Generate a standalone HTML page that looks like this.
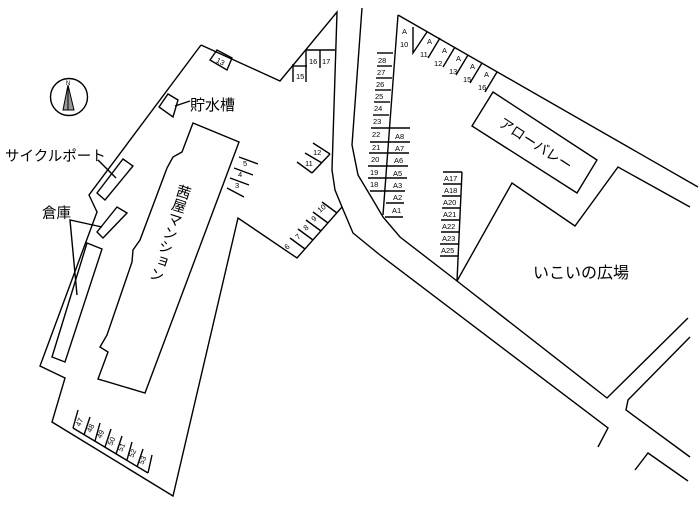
<!DOCTYPE html>
<html><head><meta charset="utf-8"><style>
html,body{margin:0;padding:0;background:#fff;}
svg{display:block;}
text{font-family:"Liberation Sans","Noto Sans CJK JP",sans-serif;fill:#000;}
.j{font-family:"Noto Sans CJK JP","Liberation Sans",sans-serif;}
</style></head><body>
<svg width="700" height="506" viewBox="0 0 700 506" xmlns="http://www.w3.org/2000/svg">
<g fill="none" stroke="#000" stroke-width="1.4" stroke-linejoin="miter">
<!-- left lot outline -->
<polyline points="201,45 280,81 337,12 332,170 335,190 342,207 297,258 238,218 173,496 52,422 65,378 40,366 97,212 89,195 201,45"/>
<!-- building -->
<polygon points="193,123 239,142 145,393 98,379 108,352 100,347 107,335 132,262 133,250 140,240 167,168 173,157 182,152"/>
<!-- cycle port -->
<polygon points="97,193 123,159 133,166 105,200"/>
<!-- warehouses -->
<polygon points="97,232 117,207 127,213 103,238"/>
<polygon points="87,243 102,249 65,362 52,357"/>
<!-- water tank -->
<polygon points="159,107 168,94 178,100 173,117"/>
<polyline points="175,106 190,101"/>
<!-- box 13 -->
<polygon points="210,60 217,50 232,58 227,70"/>
<!-- leaders -->
<polyline points="98,160 116,178"/>
<polyline points="102,227 70,220 77,295"/>
<!-- 15 16 17 -->
<polyline points="306,50 335,50"/>
<polyline points="293,66 307,66"/>
<polyline points="293,64 293,82"/>
<polyline points="306,50 306,82"/>
<polyline points="320,50 320,68"/>
<!-- 3 4 5 -->
<polyline points="239,157 258,164"/>
<polyline points="234,168 253,175"/>
<polyline points="230,178 249,185"/>
<polyline points="227,188 244,197"/>
<!-- 11 12 -->
<polyline points="330,154 312,173"/>
<polyline points="330,154 313,143"/>
<polyline points="322,163 305,153"/>
<polyline points="312,173 297,162"/>
<!-- 6-10 dividers -->
<polyline points="337,213 322,202"/>
<polyline points="328,223 313,212"/>
<polyline points="321,231 306,220"/>
<polyline points="313,240 298,229"/>
<polyline points="305,249 290,238"/>
<!-- 47-53 -->
<polyline points="73,428 148,473"/>
<polyline points="78,410 73,428"/>
<polyline points="90,417 84,435"/>
<polyline points="100,423 95,441"/>
<polyline points="111,429 105,447"/>
<polyline points="122,436 116,454"/>
<polyline points="132,442 127,460"/>
<polyline points="143,449 137,467"/>
<polyline points="152,455 148,473"/>
<!-- road -->
<polyline points="362,8 352,145 358,175 370,195 383,217 400,237 457,281 607,398 688,318"/>
<polyline points="342,207 353,233 380,255 608,428 598,447"/>
<polyline points="690,337 628,400 626,410 690,457"/>
<polyline points="635,470 648,453 688,481"/>
<!-- right lot -->
<polyline points="398,15 698,187"/>
<polyline points="398,15 383,215"/>
<polyline points="690,207 618,167 575,226 512,183 457,281"/>
<polygon points="472,126 493,92 597,160 577,193"/>
<!-- A10-A16 dividers -->
<polyline points="413,27 413,53 427,32"/>
<polyline points="440,38 428,58"/>
<polyline points="455,47 443,67"/>
<polyline points="468,55 456,75"/>
<polyline points="482,63 470,83"/>
<polyline points="497,72 485,92"/>
<!-- 28-23 stall lines -->
<polyline points="377,53 393,53"/>
<polyline points="377,66 392,66"/>
<polyline points="376,78 392,78"/>
<polyline points="375,90 391,90"/>
<polyline points="374,102 390,102"/>
<polyline points="373,115 389,115"/>
<polyline points="371,128 410,128"/>
<polyline points="370,142 410,142"/>
<polyline points="369,153 409,153"/>
<polyline points="368,166 408,166"/>
<polyline points="368,178 407,178"/>
<polyline points="370,191 405,191"/>
<polyline points="386,203 404,203"/>
<polyline points="385,217 403,217"/>
<!-- A17-A25 -->
<polyline points="462,172 457,281"/>
<polyline points="443,172 462,172"/>
<polyline points="443,184 461,184"/>
<polyline points="442,196 461,196"/>
<polyline points="442,208 460,208"/>
<polyline points="441,220 460,220"/>
<polyline points="441,232 459,232"/>
<polyline points="440,244 459,244"/>
<polyline points="440,256 458,256"/>
<!-- compass -->
<circle cx="69" cy="97" r="18.5"/>
</g>
<polygon points="68,85 63,110 74,110" fill="#999" stroke="#000" stroke-width="1"/>
<line x1="68" y1="85" x2="68" y2="110" stroke="#000" stroke-width="1"/>
<text x="68" y="85" font-size="6" text-anchor="middle">N</text>

<!-- labels -->
<text class="j" x="5" y="161" font-size="14.5">サイクルポート</text>
<text class="j" x="42" y="218" font-size="14.5">倉庫</text>
<text class="j" x="190" y="110" font-size="15">貯水槽</text>
<text class="j" x="533" y="278" font-size="16">いこいの広場</text>
<text class="j" font-size="14" transform="translate(535,145) rotate(33)" text-anchor="middle" dominant-baseline="middle">アローバレー</text>
<text class="j" font-size="14.5" transform="translate(186,185) rotate(18)" style="writing-mode:vertical-rl" letter-spacing="0">茜屋マンション</text>

<g font-size="7.5">
<text x="216" y="64" transform="rotate(28 220 62)">13</text>
<text x="296" y="79">15</text>
<text x="309" y="64">16</text>
<text x="322" y="64">17</text>
<text x="243" y="166">5</text>
<text x="238" y="177">4</text>
<text x="235" y="188">3</text>
<text x="313" y="155">12</text>
<text x="305" y="166">11</text>
<text transform="translate(320,213) rotate(-40)">10</text>
<text transform="translate(314,222) rotate(-40)">9</text>
<text transform="translate(306,231) rotate(-40)">8</text>
<text transform="translate(298,240) rotate(-40)">7</text>
<text transform="translate(287,250) rotate(-40)">6</text>
<text transform="translate(80,427) rotate(-65)">47</text>
<text transform="translate(91,433) rotate(-65)">48</text>
<text transform="translate(101,439) rotate(-65)">49</text>
<text transform="translate(112,446) rotate(-65)">50</text>
<text transform="translate(122,452) rotate(-65)">51</text>
<text transform="translate(133,458) rotate(-65)">52</text>
<text transform="translate(143,465) rotate(-65)">53</text>
<text x="378" y="63">28</text>
<text x="377" y="75">27</text>
<text x="376" y="87">26</text>
<text x="375" y="99">25</text>
<text x="374" y="111">24</text>
<text x="373" y="124">23</text>
<text x="372" y="137">22</text>
<text x="372" y="150">21</text>
<text x="371" y="162">20</text>
<text x="370" y="175">19</text>
<text x="370" y="187">18</text>
<text x="395" y="139">A8</text>
<text x="395" y="151">A7</text>
<text x="394" y="163">A6</text>
<text x="393" y="176">A5</text>
<text x="393" y="188">A3</text>
<text x="393" y="200">A2</text>
<text x="392" y="213">A1</text>
<text x="444" y="181">A17</text>
<text x="444" y="193">A18</text>
<text x="443" y="205">A20</text>
<text x="443" y="217">A21</text>
<text x="442" y="229">A22</text>
<text x="442" y="241">A23</text>
<text x="441" y="253">A25</text>
<text x="402" y="34">A</text><text x="400" y="47">10</text>
<text x="427" y="44">A</text><text x="420" y="57">11</text>
<text x="442" y="53">A</text><text x="434" y="66">12</text>
<text x="456" y="61">A</text><text x="449" y="74">13</text>
<text x="470" y="69">A</text><text x="463" y="82">15</text>
<text x="484" y="77">A</text><text x="478" y="90">16</text>
</g>
</svg>
</body></html>
